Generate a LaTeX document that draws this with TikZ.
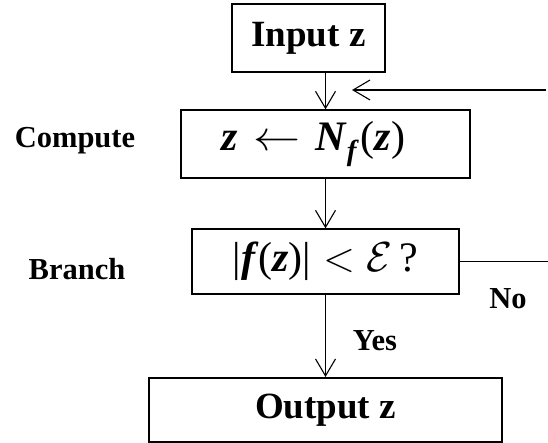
\documentclass[tikz,border=0pt]{standalone}
\usepackage{fix-cm}
\usepackage{fontspec}
\setmainfont{Liberation Serif}
\usetikzlibrary{arrows.meta}
\newcommand{\bi}[1]{\textbf{\textit{#1}}}
\begin{document}
\begin{tikzpicture}[x=1pt,y=-1pt,
  flowbox/.style={draw, line width=1.3pt, inner sep=0pt, font=\fontsize{42}{44}\selectfont},
  sidelabel/.style={font=\fontsize{30.5}{32}\selectfont\bfseries, inner sep=0pt},
  flowarrow/.style={line width=1.1pt, -{Straight Barb[length=17pt,width=20pt,line width=1.1pt]}},
  flowline/.style={line width=1.1pt}]
\useasboundingbox (0,0) rectangle (548,443);
\node[flowbox, minimum width=153pt, minimum height=68pt, font=\fontsize{37}{40}\selectfont\bfseries] (inp) at (308.5,38) {Input z};
\node[flowbox, minimum width=289pt, minimum height=68pt] (cmp) at (325.5,144)
  {\hspace*{-24pt}\bi{z}\kern15pt\scalebox{1.12}[1]{$\leftarrow$}\kern15pt\bi{N}\raisebox{-0.22em}{\fontsize{29}{30}\selectfont\bi{f}}\kern2pt(\bi{z})};
\node[flowbox, minimum width=267pt, minimum height=65pt] (br) at (325.5,261.5)
  {|\bi{f}(\bi{z})|\;$<$\;$\mathcal{E}$\,?};
\node[flowbox, line width=2pt, minimum width=353pt, minimum height=64pt, font=\fontsize{37}{40}\selectfont\bfseries] (out) at (325.5,410) {Output z};
\node[sidelabel] (lc) at (75,141) {Compute};
\node[sidelabel] (lb) at (77,269) {Branch};
\node[sidelabel] (ly) at (375,341) {Yes};
\node[sidelabel] (ln) at (508,299) {No};
\coordinate (fbstart) at (546,90);
\coordinate (fbtip) at (352,90);
\coordinate (noend) at (548,261.5);
\draw[flowarrow] (inp.south -| cmp.north) -- (cmp.north);
\draw[flowarrow] (cmp.south) -- (br.north);
\draw[flowarrow] (br.south) -- (out.north);
\draw[flowarrow] (fbstart) -- (fbtip);
\draw[flowline] (br.east) -- (noend);
\end{tikzpicture}
\end{document}
